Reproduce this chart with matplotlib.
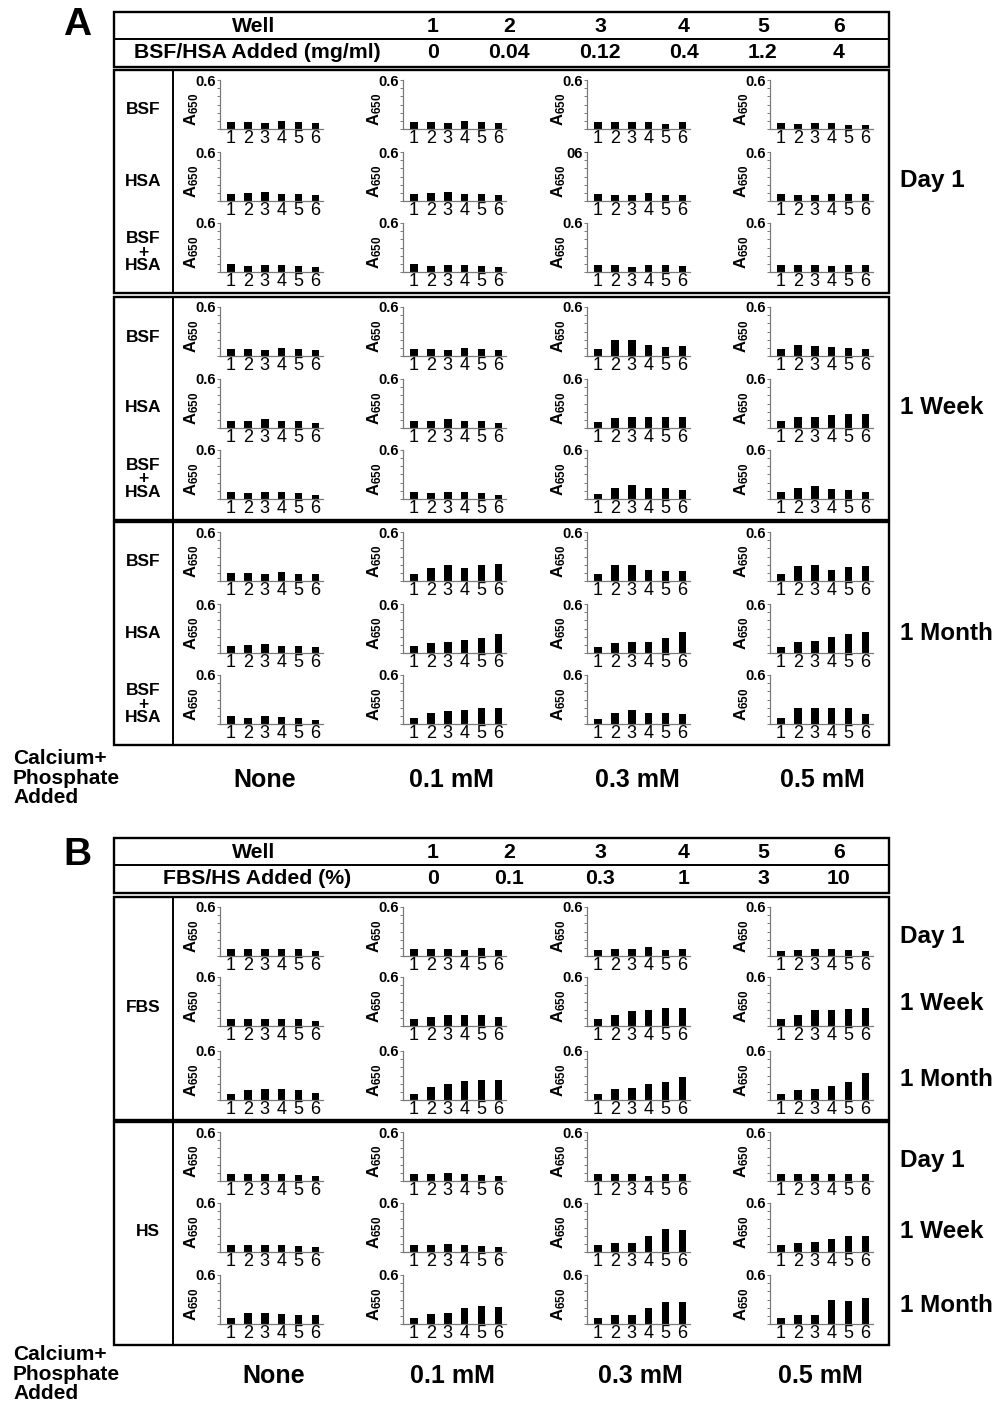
import numpy as np
import matplotlib.pyplot as plt
from matplotlib.patches import Rectangle

plt.rcParams['font.family'] = ['Liberation Sans', 'DejaVu Sans']
plt.rcParams['mathtext.fontset'] = 'custom'
plt.rcParams['mathtext.rm'] = 'Liberation Sans:bold'
plt.rcParams['mathtext.bf'] = 'Liberation Sans:bold'
plt.rcParams['mathtext.default'] = 'bf'

# ---- data (A650) ----
wells = [1, 2, 3, 4, 5, 6]
calcium = ["None", "0.1 mM", "0.3 mM", "0.5 mM"]
a_added = ["0", "0.04", "0.12", "0.4", "1.2", "4"]
b_added = ["0", "0.1", "0.3", "1", "3", "10"]

# panel A, each list = one calcium level (None, 0.1, 0.3, 0.5 mM)
a_day1_bsf = [[0.09, 0.09, 0.07, 0.10, 0.08, 0.07],
              [0.09, 0.09, 0.07, 0.10, 0.08, 0.07],
              [0.08, 0.08, 0.09, 0.08, 0.06, 0.08],
              [0.07, 0.06, 0.07, 0.07, 0.05, 0.05]]
a_day1_hsa = [[0.09, 0.10, 0.11, 0.09, 0.09, 0.07],
              [0.09, 0.10, 0.11, 0.09, 0.09, 0.07],
              [0.08, 0.07, 0.07, 0.10, 0.07, 0.07],
              [0.08, 0.07, 0.07, 0.09, 0.09, 0.09]]
a_day1_mix = [[0.10, 0.07, 0.09, 0.08, 0.07, 0.06],
              [0.10, 0.07, 0.09, 0.08, 0.07, 0.06],
              [0.08, 0.08, 0.065, 0.08, 0.08, 0.075],
              [0.085, 0.085, 0.085, 0.07, 0.085, 0.09]]

a_week_bsf = [[0.09, 0.09, 0.07, 0.10, 0.08, 0.07],
              [0.09, 0.09, 0.07, 0.10, 0.08, 0.07],
              [0.085, 0.19, 0.19, 0.13, 0.11, 0.12],
              [0.08, 0.14, 0.12, 0.105, 0.10, 0.09]]
a_week_hsa = [[0.085, 0.09, 0.105, 0.085, 0.085, 0.065],
              [0.085, 0.09, 0.105, 0.085, 0.085, 0.065],
              [0.07, 0.12, 0.13, 0.14, 0.14, 0.13],
              [0.09, 0.13, 0.14, 0.16, 0.17, 0.17]]
a_week_mix = [[0.09, 0.07, 0.09, 0.08, 0.07, 0.05],
              [0.09, 0.07, 0.09, 0.08, 0.07, 0.05],
              [0.06, 0.13, 0.17, 0.14, 0.13, 0.11],
              [0.085, 0.14, 0.16, 0.12, 0.11, 0.09]]

a_month_bsf = [[0.10, 0.10, 0.08, 0.11, 0.085, 0.08],
               [0.09, 0.155, 0.195, 0.155, 0.19, 0.21],
               [0.09, 0.19, 0.19, 0.135, 0.12, 0.12],
               [0.085, 0.18, 0.19, 0.14, 0.17, 0.18]]
a_month_hsa = [[0.09, 0.10, 0.11, 0.09, 0.09, 0.07],
               [0.08, 0.12, 0.135, 0.155, 0.185, 0.23],
               [0.075, 0.125, 0.13, 0.14, 0.185, 0.26],
               [0.075, 0.13, 0.15, 0.195, 0.235, 0.26]]
a_month_mix = [[0.10, 0.07, 0.10, 0.08, 0.075, 0.055],
               [0.07, 0.13, 0.16, 0.175, 0.195, 0.19],
               [0.06, 0.13, 0.17, 0.14, 0.13, 0.12],
               [0.07, 0.19, 0.20, 0.19, 0.20, 0.12]]

# panel B
b_fbs_day1 = [[0.09, 0.085, 0.085, 0.085, 0.08, 0.065],
              [0.09, 0.09, 0.085, 0.07, 0.10, 0.07],
              [0.075, 0.085, 0.09, 0.11, 0.075, 0.09],
              [0.065, 0.075, 0.085, 0.085, 0.07, 0.065]]
b_fbs_week = [[0.09, 0.085, 0.085, 0.09, 0.08, 0.065],
              [0.09, 0.11, 0.13, 0.14, 0.13, 0.115],
              [0.09, 0.135, 0.18, 0.195, 0.225, 0.215],
              [0.09, 0.13, 0.19, 0.19, 0.205, 0.225]]
b_fbs_month = [[0.07, 0.12, 0.14, 0.135, 0.12, 0.09],
               [0.07, 0.155, 0.19, 0.23, 0.24, 0.245],
               [0.07, 0.135, 0.15, 0.20, 0.22, 0.28],
               [0.07, 0.12, 0.14, 0.17, 0.22, 0.33]]
b_hs_day1 = [[0.09, 0.08, 0.08, 0.085, 0.075, 0.06],
             [0.09, 0.08, 0.10, 0.085, 0.075, 0.06],
             [0.08, 0.09, 0.08, 0.06, 0.085, 0.08],
             [0.08, 0.08, 0.08, 0.09, 0.09, 0.08]]
b_hs_week = [[0.08, 0.09, 0.08, 0.09, 0.075, 0.06],
             [0.09, 0.08, 0.10, 0.09, 0.075, 0.06],
             [0.08, 0.11, 0.115, 0.20, 0.285, 0.27],
             [0.08, 0.105, 0.125, 0.165, 0.20, 0.20]]
b_hs_month = [[0.07, 0.13, 0.13, 0.12, 0.115, 0.115],
              [0.07, 0.12, 0.14, 0.20, 0.22, 0.21],
              [0.07, 0.105, 0.105, 0.195, 0.275, 0.265],
              [0.07, 0.105, 0.105, 0.29, 0.28, 0.32]]

W, H = 998, 1406
fig = plt.figure(figsize=(W / 100, H / 100), dpi=100)
bg = fig.add_axes([0, 0, 1, 1])
bg.set_xlim(0, W)
bg.set_ylim(H, 0)
bg.axis('off')

col_x = [220, 403, 587, 770]
ax_w, ax_h = 103, 49
grey = '#7a7a7a'
narrow = ['Liberation Sans Narrow', 'Liberation Sans']


def small_chart(x, y_top, vals, top_label="0.6"):
    ax = fig.add_axes([x / W, 1 - (y_top + ax_h) / H, ax_w / W, ax_h / H])
    ax.bar(wells, vals, width=0.45, color='black')
    ax.set_xlim(0.35, 6.45)
    ax.set_ylim(0, 0.6)
    ax.set_yticks(np.arange(0, 0.61, 0.1))
    ax.set_yticklabels([''] * 6 + [top_label], fontsize=10.5,
                       fontweight='bold')
    ax.set_xticks(wells)
    ax.set_xticklabels([str(w) for w in wells], fontsize=13,
                       family=narrow)
    for s in ['top', 'right']:
        ax.spines[s].set_visible(False)
    for s in ['left', 'bottom']:
        ax.spines[s].set_color(grey)
        ax.spines[s].set_linewidth(0.9)
    ax.tick_params(axis='y', length=2.5, width=0.7, color=grey, pad=0.5)
    ax.tick_params(axis='x', length=0, pad=0.5)
    ax.set_ylabel("A$_{650}$", fontsize=12, fontweight='bold')
    ax.yaxis.set_label_coords(-0.18, 0.4)
    ax.patch.set_alpha(0)
    return ax


def box(x0, y0, x1, y1, lw=1.7):
    bg.add_patch(Rectangle((x0, y0), x1 - x0, y1 - y0, fill=False,
                           edgecolor='black', linewidth=lw))


well_x = [433, 509, 600, 684, 763, 839]
bold = dict(fontweight='bold', ha='center', va='center')


def header(y0, added_label, added_vals):
    box(114, y0, 889, y0 + 55)
    bg.plot([114, 889], [y0 + 27, y0 + 27], color='black', lw=1.4)
    bg.text(254, y0 + 14, "Well", fontsize=15.3, **bold)
    bg.text(257, y0 + 41, added_label, fontsize=15.3, **bold)
    for i, xx in enumerate(well_x):
        bg.text(xx, y0 + 14, str(wells[i]), fontsize=15.3, **bold)
        bg.text(xx, y0 + 41, added_vals[i], fontsize=15.3, **bold)


def footer(y, xs):
    bg.text(13, y, "Calcium+\nPhosphate\nAdded", fontsize=15,
            fontweight='bold', ha='left', va='center', linespacing=1.03)
    for lab, xx in zip(calcium, xs):
        bg.text(xx, y + 2, lab, fontsize=18, **bold)


# ---------------- panel A ----------------
bg.text(77, 25, "A", fontsize=28, **bold)
header(12, "BSF/HSA Added (mg/ml)", a_added)

a_blocks = [("Day 1", [a_day1_bsf, a_day1_hsa, a_day1_mix]),
            ("1 Week", [a_week_bsf, a_week_hsa, a_week_mix]),
            ("1 Month", [a_month_bsf, a_month_hsa, a_month_mix])]
a_box_top = [70, 297, 522]
a_row_off = [10, 82, 153]
a_rows = ["BSF", "HSA", "BSF\n+\nHSA"]
a_row_lab_off = [40, 111, 182]

for b, (when, groups) in enumerate(a_blocks):
    y0 = a_box_top[b]
    box(114, y0, 889, y0 + 223)
    bg.plot([173, 173], [y0, y0 + 223], color='black', lw=1.4)
    bg.text(900, y0 + 111, when, fontsize=17.5, fontweight='bold',
            ha='left', va='center')
    for r, rows in enumerate(groups):
        bg.text(143, y0 + a_row_lab_off[r], a_rows[r], fontsize=12.5,
                fontweight='bold', ha='center', va='center',
                linespacing=0.9)
        for c, vals in enumerate(rows):
            lab = "06" if (b == 0 and r == 1 and c == 2) else "0.6"
            small_chart(col_x[c], y0 + a_row_off[r], vals, lab)

footer(778, [265, 451, 637, 822])

# ---------------- panel B ----------------
bg.text(77, 855, "B", fontsize=28, **bold)
header(838, "FBS/HS Added (%)", b_added)

b_blocks = [("FBS", [b_fbs_day1, b_fbs_week, b_fbs_month]),
            ("HS", [b_hs_day1, b_hs_week, b_hs_month])]
b_box_top = [897, 1122]
b_row_top = [[907, 977, 1051], [1132, 1203, 1275]]
b_when = ["Day 1", "1 Week", "1 Month"]
b_when_y = [[936, 1004, 1079], [1161, 1232, 1305]]
b_lab_x = [143, 148]

for b, (serum, groups) in enumerate(b_blocks):
    y0 = b_box_top[b]
    box(114, y0, 889, y0 + 223)
    bg.plot([173, 173], [y0, y0 + 223], color='black', lw=1.4)
    bg.text(b_lab_x[b], y0 + 110, serum, fontsize=12.5, **bold)
    for r, rows in enumerate(groups):
        bg.text(900, b_when_y[b][r], b_when[r], fontsize=17.5,
                fontweight='bold', ha='left', va='center')
        for c, vals in enumerate(rows):
            small_chart(col_x[c], b_row_top[b][r], vals)

footer(1374, [274, 452, 640, 820])

fig.savefig("out.png", dpi=100)
